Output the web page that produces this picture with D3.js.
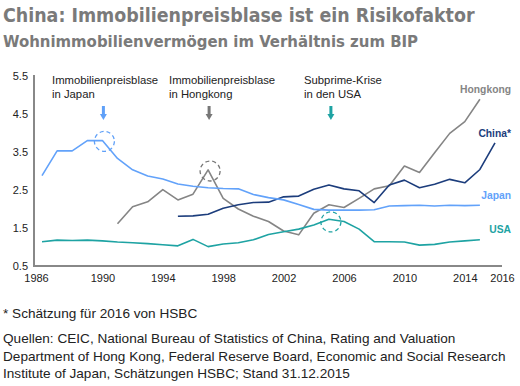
<!DOCTYPE html>
<html>
<head>
<meta charset="utf-8">
<script src="https://cdn.jsdelivr.net/npm/d3@7"></script>
<style>
  body { margin: 0; background: #fff; }
  svg { display: block; font-family: "Liberation Sans", Arial, sans-serif; }
  .title { font-family: "Liberation Sans Narrow", "DejaVu Sans Condensed", sans-serif; font-weight: bold; fill: #7a7a7a; }
  .note { fill: #222; font-size: 11.3px; }
  .foot { fill: #222; font-size: 13.6px; }
  .lbl { font-weight: bold; font-size: 10.3px; }
</style>
</head>
<body>
<div id="chart"></div>
<script>
const japanYears = d3.range(1986, 2016);
const japan = [2.88, 3.53, 3.53, 3.80, 3.80, 3.33, 3.03, 2.87, 2.79, 2.66, 2.60, 2.56, 2.54, 2.53, 2.38,
  2.30, 2.24, 2.12, 1.99, 1.97, 1.97, 1.97, 1.98, 2.08, 2.09, 2.10, 2.08, 2.10, 2.09, 2.10];
const hkYears = d3.range(1991, 2016);
const hongkong = [1.61, 2.06, 2.19, 2.51, 2.24, 2.39, 3.03, 2.28, 2.00, 1.81, 1.67, 1.42, 1.32, 1.89, 2.11,
  2.04, 2.28, 2.53, 2.61, 3.13, 2.96, 3.48, 3.99, 4.30, 4.89];
const chinaYears = d3.range(1995, 2017);
const china = [1.81, 1.82, 1.86, 2.02, 2.11, 2.17, 2.18, 2.32, 2.34, 2.52, 2.63, 2.53, 2.48, 2.17, 2.63,
  2.76, 2.56, 2.65, 2.78, 2.69, 3.04, 3.74];
const usaYears = d3.range(1986, 2016);
const usa = [1.14, 1.18, 1.17, 1.18, 1.16, 1.13, 1.11, 1.09, 1.06, 1.03, 1.20, 1.01, 1.08, 1.11, 1.19,
  1.33, 1.40, 1.47, 1.58, 1.73, 1.67, 1.47, 1.14, 1.14, 1.13, 1.05, 1.07, 1.13, 1.16, 1.19];

const xTicks = [1986, 1990, 1994, 1998, 2002, 2006, 2010, 2014, 2016];
const yTicks = [0.5, 1.5, 2.5, 3.5, 4.5, 5.5];

// events: year, value of the marked peak, text lines, colour
const events = [
  {year: 1990, value: 3.78, text: ["Immobilienpreisblase", "in Japan"], tx: 52, color: "#5fa0f8"},
  {year: 1997, value: 3.0, text: ["Immobilienpreisblase", "in Hongkong"], tx: 169, color: "#777"},
  {year: 2005, value: 1.66, text: ["Subprime-Krise", "in den USA"], tx: 304, color: "#1ea3a3"}
];

const series = [
  {name: "Hongkong", years: hkYears, values: hongkong, color: "#858585", ly: 93},
  {name: "China*", years: chinaYears, values: china, color: "#1c3d7c", ly: 137},
  {name: "Japan", years: japanYears, values: japan, color: "#62a2fa", ly: 199},
  {name: "USA", years: usaYears, values: usa, color: "#1ea3a3", ly: 233}
];

const width = 520, height = 386;

const x = d3.scaleLinear().domain([1986, 2016]).range([42, 495]);
const y = d3.scaleLinear().domain([0.5, 5.5]).range([266, 76]);

const svg = d3.select("#chart").append("svg")
  .attr("width", width).attr("height", height);

svg.append("text").attr("class", "title").attr("x", 3).attr("y", 22)
  .style("font-size", "19.4px").text("China: Immobilienpreisblase ist ein Risikofaktor");
svg.append("text").attr("class", "title").attr("x", 3).attr("y", 47)
  .style("font-size", "16.6px").text("Wohnimmobilienvermögen im Verhältnis zum BIP");

// axes
svg.append("line").attr("x1", 34).attr("x2", 34).attr("y1", y(5.5) - 1).attr("y2", y(0.5) + 1)
  .attr("stroke", "#888").attr("stroke-width", 2);
svg.append("line").attr("x1", 33).attr("x2", 502).attr("y1", y(0.5)).attr("y2", y(0.5))
  .attr("stroke", "#888").attr("stroke-width", 2);

const yAxis = svg.append("g").attr("transform", "translate(34,0)")
  .call(d3.axisLeft(y).tickValues(yTicks).tickSize(0).tickPadding(6).tickFormat(d3.format(".1f")));
const xAxis = svg.append("g").attr("transform", `translate(0,${y(0.5)})`)
  .call(d3.axisBottom(x).tickValues(xTicks).tickSize(0).tickPadding(8).tickFormat(d3.format("d")));
[yAxis, xAxis].forEach(a => {
  a.select(".domain").remove();
  a.selectAll("text").attr("fill", "#222").style("font-size", "11px")
    .style("font-family", "Liberation Sans, Arial, sans-serif");
});
xAxis.selectAll("text").attr("dx", d => d === 1986 ? -6 : d === 2016 ? 7 : 0);

// lines
const line = d3.line().x(d => x(d[0])).y(d => y(d[1]));
series.forEach(s => {
  svg.append("path")
    .datum(s.years.map((yr, i) => [yr, s.values[i]]))
    .attr("fill", "none").attr("stroke", s.color).attr("stroke-width", 1.6)
    .attr("stroke-linejoin", "round")
    .attr("d", line);
  svg.append("text").attr("class", "lbl").attr("x", 511).attr("y", s.ly)
    .attr("text-anchor", "end").attr("fill", s.color).text(s.name);
});

// event annotations
events.forEach(e => {
  const t = svg.append("text").attr("class", "note").attr("x", e.tx).attr("y", 84);
  e.text.forEach((s, i) => t.append("tspan").attr("x", e.tx).attr("dy", i ? 14 : 0).text(s));
  const ax = x(e.year) + (e.year === 2005 ? 2 : 1);
  svg.append("rect").attr("x", ax - 1.5).attr("y", 106).attr("width", 3).attr("height", 9).attr("fill", e.color);
  svg.append("path").attr("d", `M${ax - 3.5},114L${ax + 3.5},114L${ax},120Z`).attr("fill", e.color);
  svg.append("circle").attr("cx", x(e.year) + 2).attr("cy", y(e.value)).attr("r", 10)
    .attr("fill", "none").attr("stroke", e.color).attr("stroke-width", 1.3)
    .attr("stroke-dasharray", "4,3");
});

// footnotes
svg.append("text").attr("class", "foot").attr("x", 3).attr("y", 318).text("* Schätzung für 2016 von HSBC");
const src = ["Quellen: CEIC, National Bureau of Statistics of China, Rating and Valuation",
  "Department of Hong Kong, Federal Reserve Board, Economic and Social Research",
  "Institute of Japan, Schätzungen HSBC; Stand 31.12.2015"];
src.forEach((s, i) => svg.append("text").attr("class", "foot").attr("x", 3).attr("y", 343 + i * 17.5).text(s));
</script>
</body>
</html>
